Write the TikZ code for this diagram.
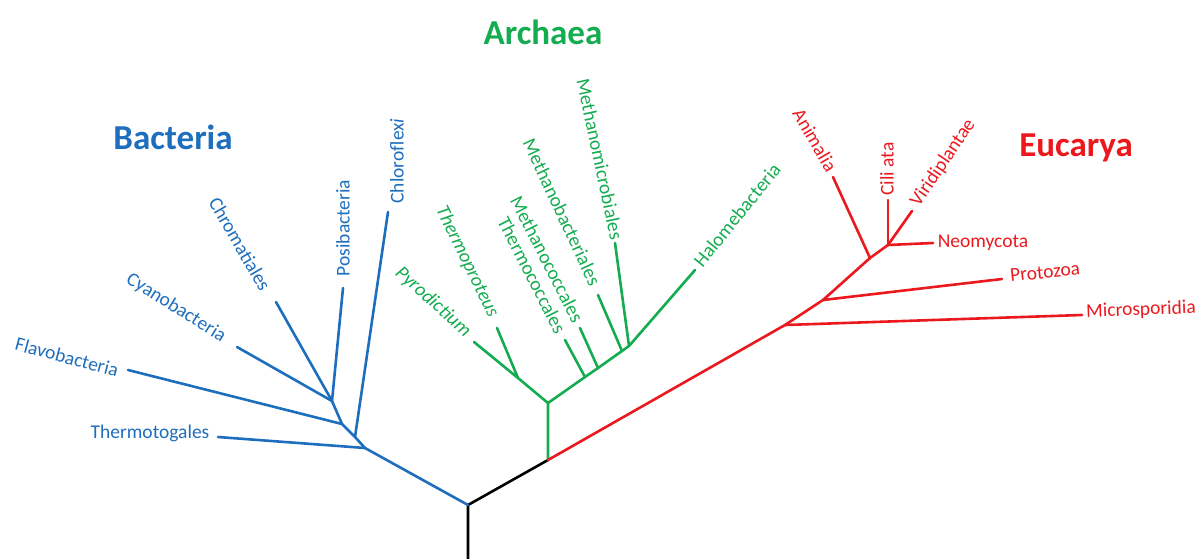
\documentclass[tikz,border=0pt]{standalone}
\usepackage{fontspec}
\setmainfont{Carlito}
\definecolor{bblue}{RGB}{30,110,190}
\definecolor{agreen}{RGB}{20,172,80}
\definecolor{ered}{RGB}{235,25,30}
\begin{document}
\begin{tikzpicture}[x=1pt,y=-1pt,
  br/.style={line width=2.6pt,line cap=round,line join=round},
  lbl/.style={inner sep=0pt,font=\fontsize{19.5}{20}\selectfont},
  ttl/.style={inner sep=0pt,font=\fontsize{35}{36}\selectfont\bfseries}]
\useasboundingbox (0,0) rectangle (1204,559);
% junctions
\coordinate (R0) at (468,559);
\coordinate (R1) at (468,505);
\coordinate (R2) at (548,460);
\coordinate (B1) at (365,448);
\coordinate (B2) at (355,437);
\coordinate (B3) at (342,424);
\coordinate (B4) at (332,401);
\coordinate (A1) at (548,403);
\coordinate (A2) at (518,378);
\coordinate (A3) at (585,377);
\coordinate (A4) at (598,368);
\coordinate (A5) at (622,351);
\coordinate (A6) at (629,346);
\coordinate (E1) at (785,325);
\coordinate (E2) at (823,300);
\coordinate (E3) at (870,258);
\coordinate (E4) at (888,245);
% leaf ends
\coordinate (lThe) at (218,437);
\coordinate (lChl) at (388,212);
\coordinate (lFla) at (128,370);
\coordinate (lCya) at (237,347);
\coordinate (lChr) at (276,302);
\coordinate (lPos) at (343,288);
\coordinate (lPyr) at (474,342);
\coordinate (lThp) at (497,328);
\coordinate (lThc) at (565,340);
\coordinate (lMco) at (580,328);
\coordinate (lMba) at (598,295);
\coordinate (lMmi) at (615,243);
\coordinate (lHal) at (695,270);
\coordinate (lMic) at (1082,315);
\coordinate (lPro) at (1002,279);
\coordinate (lAni) at (833,177);
\coordinate (lNeo) at (933,243);
\coordinate (lCil) at (888,200);
\coordinate (lVir) at (912,211);
% root
\draw[br,black] (R0) -- (R1) -- (R2);
% bacteria
\draw[br,bblue] (R1) -- (B1) -- (B2) -- (B3) -- (B4);
\draw[br,bblue] (B1) -- (lThe);
\draw[br,bblue] (B2) -- (lChl);
\draw[br,bblue] (B3) -- (lFla);
\draw[br,bblue] (B4) -- (lCya);
\draw[br,bblue] (B4) -- (lChr);
\draw[br,bblue] (B4) -- (lPos);
% archaea
\draw[br,agreen] (R2) -- (A1) -- (A2);
\draw[br,agreen] (A1) -- (A3) -- (A4) -- (A5) -- (A6);
\draw[br,agreen] (A2) -- (lPyr);
\draw[br,agreen] (A2) -- (lThp);
\draw[br,agreen] (A3) -- (lThc);
\draw[br,agreen] (A4) -- (lMco);
\draw[br,agreen] (A5) -- (lMba);
\draw[br,agreen] (A6) -- (lMmi);
\draw[br,agreen] (A6) -- (lHal);
% eucarya
\draw[br,ered] (R2) -- (E1) -- (E2) -- (E3) -- (E4);
\draw[br,ered] (E1) -- (lMic);
\draw[br,ered] (E2) -- (lPro);
\draw[br,ered] (E3) -- (lAni);
\draw[br,ered] (E4) -- (lNeo);
\draw[br,ered] (E4) -- (lCil);
\draw[br,ered] (E4) -- (lVir);
% titles
\node[ttl,bblue] (tB) at (173,137) {Bacteria};
\node[ttl,agreen] (tA) at (543,32) {Archaea};
\node[ttl,ered] (tE) at (1076,148) {Eucarya};
% bacteria labels
\node[lbl,bblue,rotate=90] (nChl) at (397,161) {Chloroflex{\itshape i}};
\node[lbl,bblue,rotate=90] (nPos) at (343,228) {Posibacteria};
\node[lbl,bblue,rotate=-60] (nChr) at (240,244) {Chromatiales};
\node[lbl,bblue,rotate=-32] (nCya) at (176,308) {Cyanobacteria};
\node[lbl,bblue,rotate=-15] (nFla) at (67,357) {Flavobacteria};
\node[lbl,bblue] (nThe) at (150,433) {Thermotogales};
% archaea labels
\node[lbl,agreen,rotate=-42] (nPyr) at (433,302) {\itshape Pyrodictium};
\node[lbl,agreen,rotate=-64] (nThp) at (467,262) {\itshape Thermoproteus};
\node[lbl,agreen,rotate=-63] (nThc) at (532,275) {Thermococcales};
\node[lbl,agreen,rotate=-63] (nMco) at (547,259) {Methanococcales};
\node[lbl,agreen,rotate=-65] (nMba) at (562,212) {Methanobacteriales};
\node[lbl,agreen,rotate=-78] (nMmi) at (600,159) {Methanomicrobiales};
\node[lbl,agreen,rotate=51] (nHal) at (737,215) {Halomebacteria};
% eucarya labels
\node[lbl,ered,rotate=-60] (nAni) at (815,140) {Animalia};
\node[lbl,ered,rotate=90] (nCil) at (887,169) {Cili ata};
\node[lbl,ered,rotate=56] (nVir) at (943,163) {Viridiplantae};
\node[lbl,ered] (nNeo) at (983,243) {Neomycota};
\node[lbl,ered,rotate=6] (nPro) at (1045,272) {Protozoa};
\node[lbl,ered,rotate=2] (nMic) at (1141,310) {Microsporidia};
\end{tikzpicture}
\end{document}
